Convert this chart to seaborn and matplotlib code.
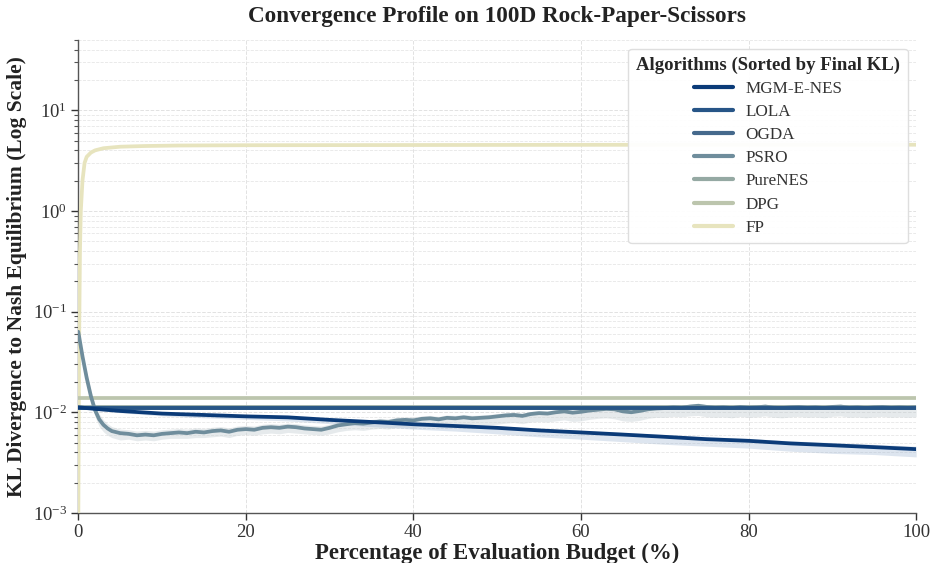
import numpy as np
import pandas as pd
import matplotlib
matplotlib.use("Agg")
import matplotlib.pyplot as plt
import seaborn as sns

# ---------------- data ----------------
algorithms = ["MGM-E-NES", "LOLA", "OGDA", "PSRO", "PureNES", "DPG", "FP"]
colors = ["#0b3b78", "#275587", "#45698c", "#6f8d9c", "#95a9a3", "#bcc5ad", "#e7e4be"]

mgm_x = [0, 2, 5, 10, 15, 20, 25, 30, 35, 40, 45, 50, 55, 60, 65, 70, 75, 80, 85, 90, 95, 100]
mgm_y = [0.0112, 0.0108, 0.0103, 0.0097, 0.0094, 0.0091, 0.0089, 0.0084, 0.0080, 0.0076,
         0.0073, 0.0070, 0.0066, 0.0063, 0.0060, 0.0057, 0.0054, 0.0052, 0.0049, 0.0047,
         0.0045, 0.0043]
mgm_lo = [0.0110, 0.0105, 0.0099, 0.0092, 0.0088, 0.0085, 0.0082, 0.0077, 0.0072, 0.0068,
          0.0065, 0.0061, 0.0057, 0.0054, 0.0051, 0.0048, 0.0046, 0.0044, 0.0041, 0.0039,
          0.0038, 0.0036]
mgm_hi = [0.0114, 0.0110, 0.0106, 0.0100, 0.0097, 0.0094, 0.0092, 0.0087, 0.0083, 0.0079,
          0.0076, 0.0073, 0.0069, 0.0066, 0.0063, 0.0060, 0.0057, 0.0055, 0.0052, 0.0050,
          0.0048, 0.0046]

flat_x = [0, 25, 50, 75, 100]
lola_y = [0.0110, 0.0110, 0.0110, 0.0110, 0.0110]
ogda_y = [0.0111, 0.0111, 0.0111, 0.0111, 0.0111]
purenes_y = [0.0114, 0.0114, 0.0114, 0.0114, 0.0114]
dpg_y = [0.0138, 0.0138, 0.0138, 0.0138, 0.0138]

psro_x = [0, 0.5, 1, 1.5, 2, 2.5, 3, 3.5, 4] + list(range(5, 101))
psro_y = [0.063, 0.036, 0.022, 0.0145, 0.0105, 0.0085, 0.0075, 0.0069, 0.0065,
          0.0062, 0.0061, 0.0059, 0.0060, 0.0059, 0.0061, 0.0062, 0.0063, 0.0062, 0.0064,
          0.0063, 0.0065, 0.0066, 0.0064, 0.0067, 0.0068, 0.0067, 0.0070, 0.0071, 0.0070,
          0.0072, 0.0071, 0.0069, 0.0068, 0.0067, 0.0070, 0.0074, 0.0076, 0.0078, 0.0077,
          0.0079, 0.0081, 0.0080, 0.0083, 0.0084, 0.0083, 0.0086, 0.0087, 0.0085, 0.0088,
          0.0087, 0.0089, 0.0087, 0.0088, 0.0089, 0.0091, 0.0093, 0.0094, 0.0092, 0.0096,
          0.0098, 0.0097, 0.0100, 0.0102, 0.0099, 0.0101, 0.0104, 0.0106, 0.0108, 0.0107,
          0.0102, 0.0100, 0.0103, 0.0107, 0.0109, 0.0110, 0.0112, 0.0111, 0.0114, 0.0116,
          0.0113, 0.0111, 0.0112, 0.0110, 0.0113, 0.0111, 0.0112, 0.0114, 0.0111, 0.0110,
          0.0112, 0.0113, 0.0111, 0.0112, 0.0110, 0.0113, 0.0114, 0.0111, 0.0112, 0.0110,
          0.0112, 0.0113, 0.0111, 0.0112, 0.0111, 0.0112]
psro_lo = [0.060, 0.033, 0.019, 0.0125, 0.0090, 0.0072, 0.0064, 0.0059, 0.0056,
           0.0053, 0.0054, 0.0052, 0.0053, 0.0052, 0.0054, 0.0055, 0.0055, 0.0055, 0.0056,
           0.0056, 0.0057, 0.0058, 0.0056, 0.0059, 0.0060, 0.0059, 0.0061, 0.0062, 0.0061,
           0.0063, 0.0062, 0.0061, 0.0060, 0.0059, 0.0061, 0.0064, 0.0066, 0.0067, 0.0066,
           0.0068, 0.0069, 0.0068, 0.0071, 0.0071, 0.0070, 0.0073, 0.0073, 0.0072, 0.0074,
           0.0073, 0.0075, 0.0073, 0.0074, 0.0075, 0.0076, 0.0078, 0.0079, 0.0077, 0.0080,
           0.0081, 0.0080, 0.0082, 0.0084, 0.0081, 0.0082, 0.0085, 0.0087, 0.0088, 0.0086,
           0.0082, 0.0081, 0.0083, 0.0087, 0.0089, 0.0089, 0.0091, 0.0090, 0.0092, 0.0093,
           0.0090, 0.0089, 0.0090, 0.0088, 0.0091, 0.0089, 0.0090, 0.0092, 0.0089, 0.0088,
           0.0090, 0.0091, 0.0089, 0.0090, 0.0088, 0.0091, 0.0092, 0.0089, 0.0090, 0.0088,
           0.0090, 0.0091, 0.0089, 0.0090, 0.0089, 0.0090]
psro_hi = [0.066, 0.039, 0.025, 0.0165, 0.0118, 0.0096, 0.0084, 0.0077, 0.0072,
           0.0068, 0.0067, 0.0065, 0.0066, 0.0065, 0.0067, 0.0068, 0.0069, 0.0068, 0.0070,
           0.0069, 0.0071, 0.0072, 0.0070, 0.0073, 0.0074, 0.0073, 0.0076, 0.0077, 0.0076,
           0.0078, 0.0077, 0.0075, 0.0074, 0.0073, 0.0076, 0.0080, 0.0082, 0.0084, 0.0083,
           0.0085, 0.0087, 0.0086, 0.0089, 0.0090, 0.0089, 0.0092, 0.0093, 0.0091, 0.0094,
           0.0093, 0.0095, 0.0093, 0.0094, 0.0095, 0.0097, 0.0099, 0.0100, 0.0098, 0.0102,
           0.0104, 0.0103, 0.0106, 0.0108, 0.0105, 0.0107, 0.0110, 0.0112, 0.0114, 0.0113,
           0.0108, 0.0106, 0.0109, 0.0113, 0.0115, 0.0116, 0.0118, 0.0117, 0.0120, 0.0123,
           0.0119, 0.0117, 0.0118, 0.0116, 0.0119, 0.0117, 0.0118, 0.0120, 0.0117, 0.0116,
           0.0118, 0.0119, 0.0117, 0.0118, 0.0116, 0.0119, 0.0120, 0.0117, 0.0118, 0.0116,
           0.0118, 0.0119, 0.0117, 0.0118, 0.0117, 0.0118]

fp_x = [0, 0.1, 0.2, 0.3, 0.5, 0.75, 1, 1.5, 2, 3, 5, 8, 12, 20, 40, 60, 80, 100]
fp_y = [0.0008, 0.05, 0.4, 1.0, 2.0, 3.0, 3.45, 3.8, 4.0, 4.2, 4.35, 4.42, 4.47, 4.5, 4.52,
        4.54, 4.55, 4.55]

# ---------------- long-form table ----------------
series = {
    "MGM-E-NES": (mgm_x, mgm_y),
    "LOLA": (flat_x, lola_y),
    "OGDA": (flat_x, ogda_y),
    "PSRO": (psro_x, psro_y),
    "PureNES": (flat_x, purenes_y),
    "DPG": (flat_x, dpg_y),
    "FP": (fp_x, fp_y),
}
frames = [pd.DataFrame({"budget": xs, "kl": ys, "Algorithm": name})
          for name, (xs, ys) in series.items()]
df = pd.concat(frames, ignore_index=True)
palette = dict(zip(algorithms, colors))

# ---------------- style ----------------
sns.set_theme(style="ticks")
plt.rcParams["font.family"] = ["Liberation Serif", "DejaVu Serif"]
plt.rcParams["mathtext.fontset"] = "stix"

fig, ax = plt.subplots(figsize=(9.32, 5.63), dpi=100)

# confidence bands
ax.fill_between(psro_x, psro_lo, psro_hi, color="#c9d2d6", alpha=0.45, lw=0, zorder=1)
ax.fill_between(mgm_x, mgm_lo, mgm_hi, color="#9fb6d2", alpha=0.35, lw=0, zorder=1)

# draw from palest to darkest so the dark lines sit on top
order = algorithms[::-1]
for name in order:
    sub = df[df["Algorithm"] == name]
    sns.lineplot(data=sub, x="budget", y="kl", color=palette[name], lw=2.7,
                 ax=ax, label=name, estimator=None, sort=False, zorder=3)

ax.set_yscale("log")
ax.set_xlim(0, 100)
ax.set_ylim(1e-3, 50)
ax.set_xticks([0, 20, 40, 60, 80, 100])
ax.grid(True, which="major", ls="--", lw=0.7, color="#e2e2e2")
ax.grid(True, which="minor", axis="y", ls="--", lw=0.6, color="#e6e6e6")
ax.tick_params(axis="both", which="major", labelsize=13.5, length=5, width=1,
               color="#333333", pad=3)
ax.tick_params(axis="y", which="minor", length=3, width=0.8, color="#555555")
for lab in ax.get_xticklabels() + ax.get_yticklabels():
    lab.set_color("#333333")
sns.despine(ax=ax)
for sp in ("left", "bottom"):
    ax.spines[sp].set_color("#555555")
    ax.spines[sp].set_linewidth(1.0)

ax.set_xlabel("Percentage of Evaluation Budget (%)", fontsize=16.5, fontweight="bold",
              color="#222222", labelpad=1)
ax.set_ylabel("KL Divergence to Nash Equilibrium (Log Scale)", fontsize=15.5,
              fontweight="bold", color="#222222", labelpad=4)
ax.set_title("Convergence Profile on 100D Rock-Paper-Scissors", fontsize=16.7,
             fontweight="bold", color="#222222", pad=13)

handles, labels = ax.get_legend_handles_labels()
hmap = dict(zip(labels, handles))
leg = ax.legend([hmap[a] for a in algorithms], algorithms, loc="upper right",
                bbox_to_anchor=(1.0, 1.0),
                title="Algorithms (Sorted by Final KL)", fontsize=12.3,
                title_fontproperties={"weight": "bold", "size": 13.5,
                                      "family": ["Liberation Serif"]},
                frameon=True, framealpha=0.95, edgecolor="#dddddd",
                handlelength=2.3, handletextpad=0.7, borderpad=0.45,
                labelspacing=0.42)
for t in leg.get_texts():
    t.set_color("#333333")
for h in leg.get_lines():
    h.set_linewidth(3.0)

fig.subplots_adjust(left=0.084, right=0.983, bottom=0.089, top=0.929)
fig.savefig("out.png", dpi=100)
